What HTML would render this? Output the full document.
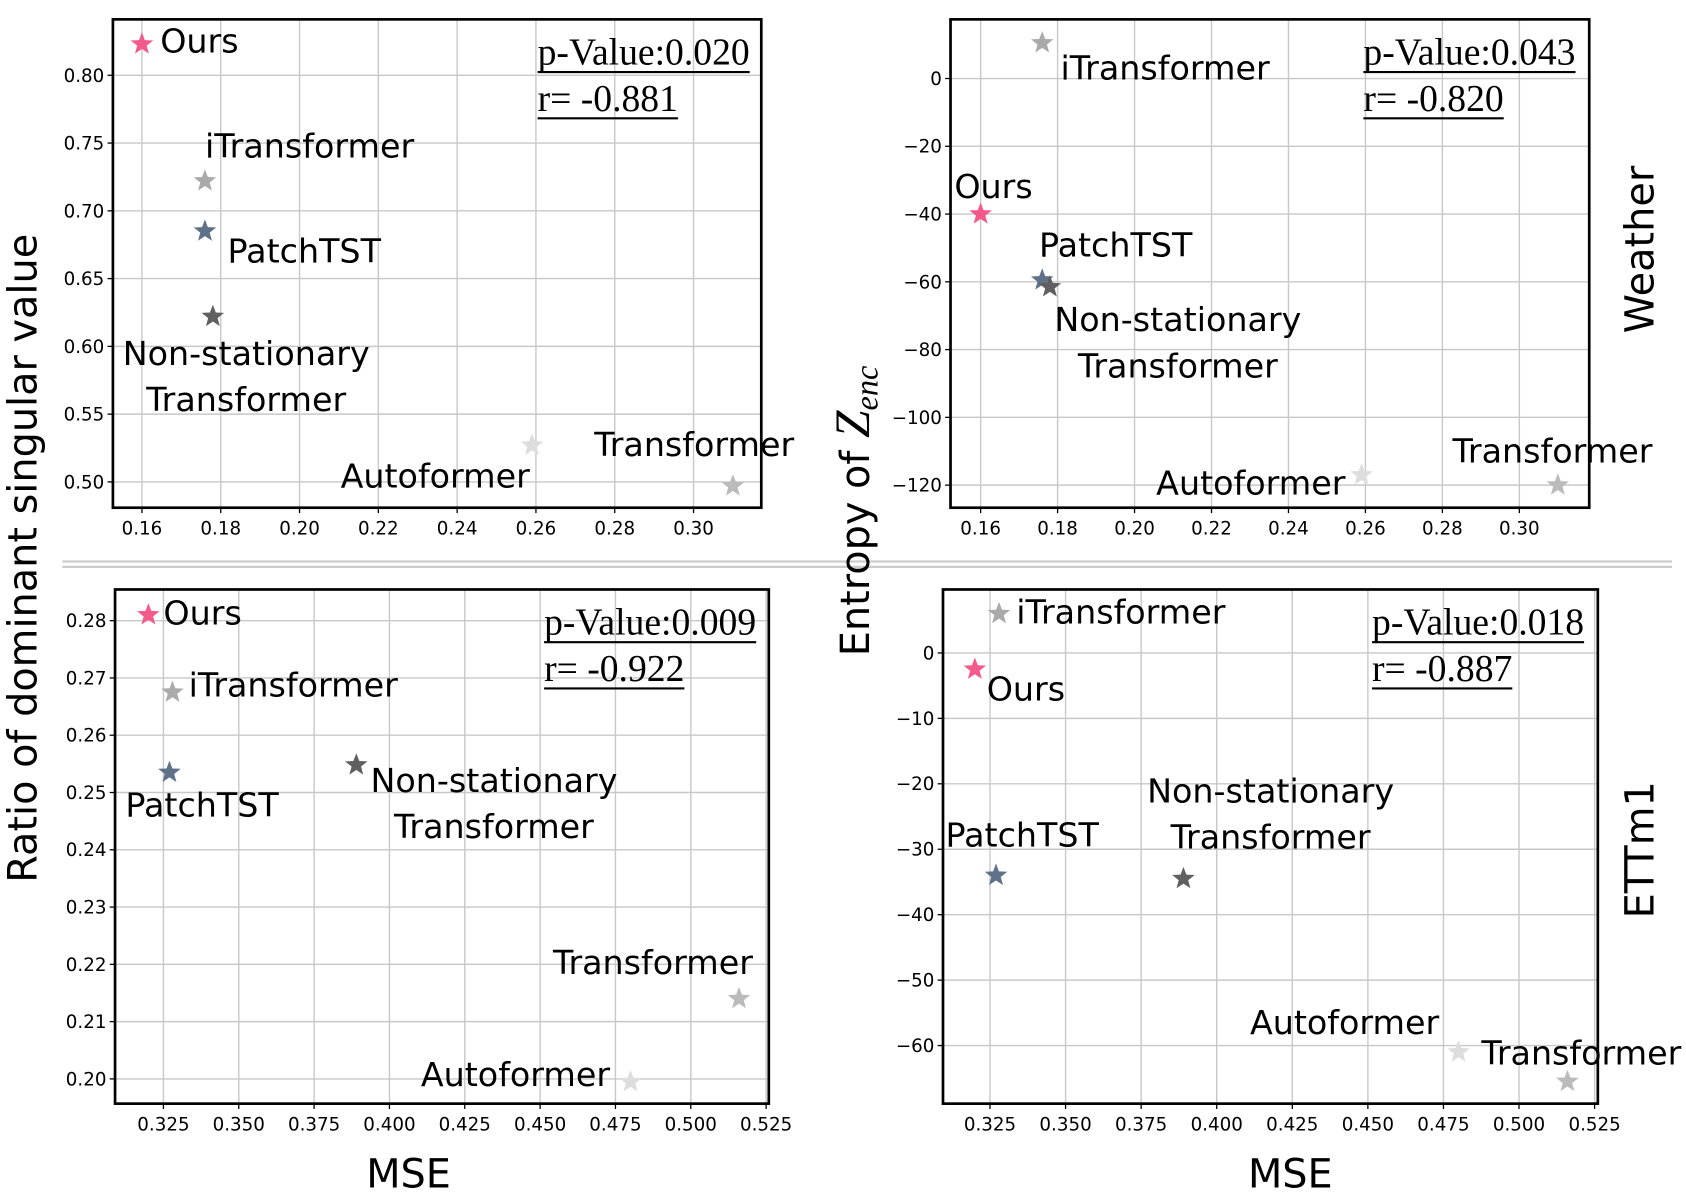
<!DOCTYPE html>
<html><head><meta charset="utf-8"><style>
html,body{margin:0;padding:0;background:#fff}
svg{display:block}
.tk{font-family:"DejaVu Sans","Liberation Sans",sans-serif;font-size:17px;fill:#000}
.lb{font-family:"DejaVu Sans","Liberation Sans",sans-serif;font-size:31px;fill:#000}
.an{font-family:"Liberation Serif",serif;font-size:35px;fill:#000}
.ax{font-family:"DejaVu Sans","Liberation Sans",sans-serif;font-size:37px;fill:#000}
</style></head><body>
<svg id="fig" width="1686" height="1194" viewBox="0 0 1568 1110" preserveAspectRatio="none" xmlns="http://www.w3.org/2000/svg">
<line x1="58" y1="522" x2="1555" y2="522" stroke="#ccc" stroke-width="2"/>
<line x1="58" y1="527" x2="1555" y2="527" stroke="#ccc" stroke-width="2"/>
<text class="ax" transform="translate(34,519) rotate(-90)" text-anchor="middle">Ratio of dominant singular value</text>
<text class="ax" transform="translate(808,475) rotate(-90)" text-anchor="middle">Entropy of <tspan font-family="Liberation Serif" font-style="italic" font-size="46">Z</tspan><tspan font-family="Liberation Serif" font-style="italic" font-size="30" dy="8">enc</tspan></text>
<text class="ax" transform="translate(1538,232) rotate(-90)" text-anchor="middle">Weather</text>
<text class="ax" transform="translate(1538,790) rotate(-90)" text-anchor="middle">ETTm1</text>
<text class="ax" x="380" y="1104" text-anchor="middle">MSE</text>
<text class="ax" x="1200" y="1104" text-anchor="middle">MSE</text>
</svg>
<script>
const models=["Ours","iTransformer","PatchTST","Non-stationary Transformer","Autoformer","Transformer"];
const colors=["#f45b8a","#aaaaaa","#5f7189","#606060","#dddddd","#bbbbbb"];
const weatherMse=[0.160,0.176,0.176,0.178,0.259,0.310];
const weatherRatio=[0.823,0.722,0.685,0.622,0.527,0.497];
const weatherEntropy=[-40,10.5,-59.5,-61.5,-117,-120];
const ettMse=[0.320,0.328,0.327,0.389,0.480,0.516];
const ettRatio=[0.281,0.2675,0.2535,0.2548,0.1995,0.214];
const ettEntropy=[-2.5,6,-34,-34.5,-61,-65.5];
const ticksX1=[0.16,0.18,0.20,0.22,0.24,0.26,0.28,0.30];
const ticksX2=[0.325,0.35,0.375,0.4,0.425,0.45,0.475,0.5,0.525];
const ticksYRatio1=[0.50,0.55,0.60,0.65,0.70,0.75,0.80];
const ticksYEnt1=[-120,-100,-80,-60,-40,-20,0];
const ticksYRatio2=[0.20,0.21,0.22,0.23,0.24,0.25,0.26,0.27,0.28];
const ticksYEnt2=[-60,-50,-40,-30,-20,-10,0];
const stats=[["p-Value:0.020","r= -0.881"],["p-Value:0.043","r= -0.820"],["p-Value:0.009","r= -0.922"],["p-Value:0.018","r= -0.887"]];

const NS="http://www.w3.org/2000/svg";
const svg=document.getElementById('fig');
function mk(t,a,p){const e=document.createElementNS(NS,t);for(const k in a)e.setAttribute(k,a[k]);(p||svg).appendChild(e);return e;}
function lin(d0,d1,r0,r1){return v=>r0+(v-d0)/(d1-d0)*(r1-r0);}
function star(cx,cy,r){let p=[];for(let i=0;i<10;i++){const a=-Math.PI/2+i*Math.PI/5;const rr=i%2?r*0.42:r;p.push((cx+rr*Math.cos(a)).toFixed(1)+","+(cy+rr*Math.sin(a)).toFixed(1));}return p.join(" ");}

// layout: label offsets [dx,dy,anchor]; NS label: second line uses same dx, +43
const panels=[
 {box:[105,18,708,472],xa:[0.16,0.30,132,645],ya:[0.80,0.50,70,448],xs:weatherMse,ys:weatherRatio,tx:ticksX1,ty:ticksYRatio1,fx:2,fy:2,st:stats[0],sx:500,
  lab:[[17,8,"start"],[0,-22,"start"],[21,29,"start"],[31,45,"middle"],[-2,39,"end"],[-36,-28,"middle"]],name:"weather-ratio"},
 {box:[884,18,1478,472],xa:[0.16,0.30,912,1413],ya:[0,-120,73,451],xs:weatherMse,ys:weatherEntropy,tx:ticksX1,ty:ticksYEnt1,fx:2,fy:0,st:stats[1],sx:1268,
  lab:[[12,-15,"middle"],[17,34,"start"],[-3,-22,"start"],[119,41,"middle"],[-15,18,"end"],[-5,-21,"middle"]],name:"weather-entropy"},
 {box:[107,548,715,1026],xa:[0.325,0.525,152,712.5],ya:[0.28,0.20,577,1003],xs:ettMse,ys:ettRatio,tx:ticksX2,ty:ticksYRatio2,fx:3,fy:2,st:stats[2],sx:506,
  lab:[[14,9,"start"],[15,4,"start"],[-41,41,"start"],[128,25,"middle"],[-19,4,"end"],[-80,-23,"middle"]],name:"ett-ratio"},
 {box:[877,548,1486,1026],xa:[0.325,0.525,920.7,1483],ya:[0,-60,607,972],xs:ettMse,ys:ettEntropy,tx:ticksX2,ty:ticksYEnt2,fx:3,fy:0,st:stats[3],sx:1276,
  lab:[[11,29,"start"],[16,9,"start"],[-47,-27,"start"],[81,-71,"middle"],[-18,-17,"end"],[-80,-16,"start"]],name:"ett-entropy"}
];
panels.forEach((P,pi)=>{
 const [x0,y0,x1,y1]=P.box;
 const g=mk('g',{});
 
 
 const X=lin(P.xa[0],P.xa[1],P.xa[2],P.xa[3]);
 const Y=lin(P.ya[0],P.ya[1],P.ya[2],P.ya[3]);
 P.tx.forEach(t=>{const px=X(t);
  const l=mk('line',{x1:px,y1:y0,x2:px,y2:y1,stroke:'#c8c8c8','stroke-width':1.3},g);
  
  mk('line',{x1:px,y1:y1,x2:px,y2:y1+5,stroke:'#000','stroke-width':1.2},g);
  const tt=mk('text',{x:px,y:y1+25,'text-anchor':'middle',class:'tk'},g);tt.textContent=t.toFixed(P.fx);
  });
 P.ty.forEach(t=>{const py=Y(t);
  const l=mk('line',{x1:x0,y1:py,x2:x1,y2:py,stroke:'#c8c8c8','stroke-width':1.3},g);
  
  mk('line',{x1:x0-5,y1:py,x2:x0,y2:py,stroke:'#000','stroke-width':1.2},g);
  const tt=mk('text',{x:x0-8,y:py+6,'text-anchor':'end',class:'tk'},g);
  tt.textContent=P.fy?t.toFixed(P.fy):(t<0?'\u2212'+Math.abs(t):String(t));
  });
 const fr=mk('rect',{x:x0,y:y0,width:x1-x0,height:y1-y0,fill:'none',stroke:'#000','stroke-width':2.5},g);
 
 models.forEach((m,i)=>{const cx=X(P.xs[i]),cy=Y(P.ys[i]);
  const s=mk('polygon',{points:star(cx,cy,11),fill:colors[i]},g);
  
  
  const L=P.lab[i];const lines=m==="Non-stationary Transformer"?["Non-stationary","Transformer"]:[m];
  lines.forEach((ln,k)=>{const t=mk('text',{x:cx+L[0],y:cy+L[1]+k*43,'text-anchor':L[2],class:'lb'},g);t.textContent=ln;
   });
 });
 const a1=mk('text',{x:P.sx,y:y0+42,class:'an'},g);a1.textContent=P.st[0];
 
 const a2=mk('text',{x:P.sx,y:y0+85,class:'an'},g);a2.textContent=P.st[1];
 
 [a1,a2].forEach((a,k)=>{const w=a.getBBox().width;
  const u=mk('line',{x1:P.sx,y1:y0+49+k*43,x2:P.sx+w,y2:y0+49+k*43,stroke:'#000','stroke-width':2},g);
  });
});
</script>
</body></html>
